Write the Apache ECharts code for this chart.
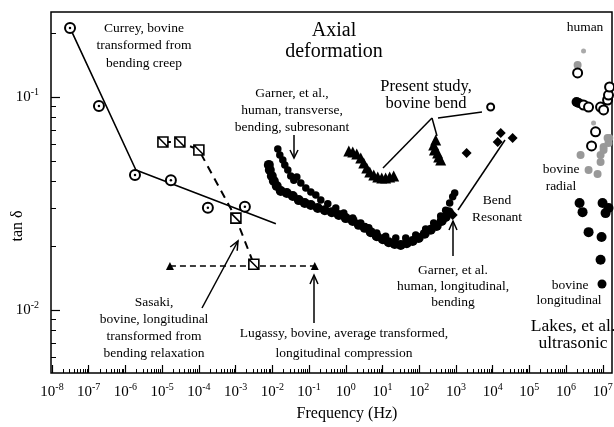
<!DOCTYPE html>
<html>
<head>
<meta charset="utf-8">
<script src="https://cdn.jsdelivr.net/npm/echarts@6/dist/echarts.min.js"></script>
<style>
html, body { margin: 0; padding: 0; background: #fff; }
#main { width: 614px; height: 427px; }
</style>
</head>
<body>
<div id="main"></div>
<script>
// 坐标轴刻度
var xMajor = [1e-8, 1e-7, 1e-6, 1e-5, 1e-4, 1e-3, 1e-2, 1e-1, 1, 10, 100, 1e3, 1e4, 1e5, 1e6, 1e7];
var yMajor = [0.01, 0.1];
var yMinor = [0.006, 0.007, 0.008, 0.009, 0.02, 0.03, 0.04, 0.05, 0.06, 0.07, 0.08, 0.09, 0.2];

// Currey
var currey = [[3.1e-8, 0.211], [1.9e-7, 0.0907], [1.82e-6, 0.043], [1.73e-5, 0.0407], [1.76e-4, 0.0302], [1.79e-3, 0.0305]];
var curreyFit = [[3.1e-8, 0.211], [1.93e-6, 0.0454], [1.25e-2, 0.0254]];
// Sasaki
var sasaki = [[1.05e-5, 0.0615], [3.04e-5, 0.0615], [1.0e-4, 0.0564], [1.02e-3, 0.027], [3.14e-3, 0.0164]];
// Lugassy
var lugassy = [[1.63e-5, 0.0161], [0.143, 0.0161]];
// Garner, transverse
var garnerTrans = [[0.0141, 0.057], [0.016, 0.0534], [0.0193, 0.0506], [0.0219, 0.048], [0.0264, 0.0454],
    [0.0318, 0.0426], [0.0385, 0.0407], [0.0465, 0.0421], [0.0597, 0.0395], [0.0817, 0.0374], [0.112, 0.0358],
    [0.153, 0.0347], [0.209, 0.0328], [0.324, 0.0315], [0.535, 0.0301], [0.883, 0.0285], [1.55, 0.027],
    [2.56, 0.0256], [4.23, 0.0243], [6.98, 0.023], [12.2, 0.0222], [23, 0.0218], [43, 0.0218], [80.4, 0.0225],
    [150, 0.024], [248, 0.0256], [385, 0.0276], [526, 0.0294], [676, 0.0318], [817, 0.034], [925, 0.0354]];
// Garner, longitudinal
var garnerLong = [[0.00804, 0.048], [0.00855, 0.0454], [0.0097, 0.0426], [0.011, 0.0403], [0.0132, 0.0382],
    [0.017, 0.0362], [0.0248, 0.0354], [0.0361, 0.0343], [0.0526, 0.0328], [0.0765, 0.0318], [0.112, 0.0311],
    [0.173, 0.0301], [0.269, 0.0294], [0.416, 0.0288], [0.646, 0.0279], [1.0, 0.027], [1.55, 0.0262],
    [2.26, 0.0251], [3.29, 0.0243], [4.79, 0.0232], [6.98, 0.0222], [10.2, 0.0215], [14.8, 0.0208],
    [21.5, 0.0204], [31.4, 0.0202], [45.7, 0.0206], [66.5, 0.0211], [96.9, 0.0218], [141, 0.0228],
    [206, 0.0238], [299, 0.0248], [409, 0.0262], [526, 0.0273], [635, 0.0288]];
// Present study
var present = [[1.21, 0.0557], [1.55, 0.0552], [1.99, 0.054], [2.56, 0.0517], [3.09, 0.049], [3.73, 0.0464],
    [4.5, 0.0445], [5.78, 0.043], [7.43, 0.0421], [9.55, 0.0417], [12.2, 0.0417], [15.7, 0.0421], [20.2, 0.0426],
    [281, 0.0628], [248, 0.0595], [260, 0.0564], [318, 0.0546], [340, 0.0523], [385, 0.0506]];
var presentMarker = [[8830, 0.0897]];
// Bend resonant
var bendResonant = [[1.37e4, 0.0615], [1.66e4, 0.0678], [3.5e4, 0.0642], [1960, 0.0546], [817, 0.0279]];
// Lakes, ultrasonic
var humanOpen = [[2.06e6, 0.1297], [2.99e6, 0.0917], [4.09e6, 0.0897], [8.69e6, 0.0897], [1.05e7, 0.0869],
    [1.35e7, 0.0968], [1.43e7, 0.1021], [1.53e7, 0.1114], [6.35e6, 0.0686], [4.94e6, 0.0589]];
var humanFilled = [[1.93e6, 0.0947], [2.19e6, 0.0938]];
var radial = [[2.06e6, 0.1413], [1.35e7, 0.0642], [1.43e7, 0.0608], [1.05e7, 0.0582], [8.7e6, 0.0534],
    [2.48e6, 0.0534], [4.1e6, 0.0454], [7.2e6, 0.0435], [8.7e6, 0.0495], [1.05e7, 0.0564], [1.5e7, 0.0642]];
var radialSmall = [[2.99e6, 0.1644], [5.6e6, 0.0755]];
var longitudinal = [[2.33e6, 0.0318], [2.81e6, 0.0288], [9.84e6, 0.0318], [1.19e7, 0.0285], [1.43e7, 0.0301],
    [4.1e6, 0.0232], [9.25e6, 0.022], [8.7e6, 0.0172]];

var FONT = '"Liberation Serif", "Times New Roman", serif';

var xMinor = [];
xMajor.forEach(function (d) {
    for (var k = 2; k <= 9; k++) xMinor.push(d * k);
});

function powLabel(v) {
    var n = Math.round(Math.log10(v));
    return '{b|10}{s|' + n + '}';
}
var richLabel = {
    b: { fontFamily: FONT, fontSize: 15, color: '#000', lineHeight: 20 },
    s: { fontFamily: FONT, fontSize: 10, color: '#000', verticalAlign: 'top', lineHeight: 12 }
};

var xLim = [9.4e-9, 1.78e7];
var yLim = [0.00506, 0.2506];

function txt(text, x, y, size, lh) {
    return {
        type: 'text', z: 100,
        style: {
            text: text, x: x, y: y, fill: '#000',
            font: size + 'px ' + FONT,
            align: 'center', verticalAlign: 'middle',
            textAlign: 'center', textVerticalAlign: 'middle',
            lineHeight: lh || size + 3
        }
    };
}
function seg(x1, y1, x2, y2) {
    return { type: 'line', z: 100, shape: { x1: x1, y1: y1, x2: x2, y2: y2 }, style: { stroke: '#000', lineWidth: 1.5 } };
}
function head(pts) {
    return { type: 'polyline', z: 100, shape: { points: pts }, style: { stroke: '#000', lineWidth: 1.5, fill: null } };
}
// 散点
function dots(name, data, symbol, size, style, z) {
    style.opacity = 1;
    return { name: name, type: 'scatter', data: data, symbol: symbol, symbolSize: size, itemStyle: style, z: z || 3 };
}

var chart = echarts.init(document.getElementById('main'));
var option = {
    animation: false,
    backgroundColor: '#fff',
    grid: {
        left: 51, top: 12, right: 2, bottom: 54,
        show: true, borderColor: '#000', borderWidth: 1.5,
        outerBoundsMode: 'none', containLabel: false
    },
    xAxis: [
        {
            type: 'log', logBase: 10, min: xLim[0], max: xLim[1], position: 'bottom',
            axisLine: { show: false },
            splitLine: { show: false },
            axisTick: { show: true, inside: true, length: 8, lineStyle: { color: '#000', width: 1.2 }, customValues: xMajor },
            axisLabel: { customValues: xMajor, formatter: powLabel, rich: richLabel, margin: 9 }
        },
        {
            type: 'log', logBase: 10, min: xLim[0], max: xLim[1], position: 'bottom',
            axisLine: { show: false },
            splitLine: { show: false },
            axisTick: { show: true, inside: true, length: 4, lineStyle: { color: '#000', width: 1 }, customValues: xMinor },
            axisLabel: { show: false }
        }
    ],
    yAxis: [
        {
            type: 'log', logBase: 10, min: yLim[0], max: yLim[1], position: 'left',
            axisLine: { show: false },
            splitLine: { show: false },
            axisTick: { show: true, inside: true, length: 9, lineStyle: { color: '#000', width: 1.2 }, customValues: yMajor },
            axisLabel: { customValues: yMajor, formatter: powLabel, rich: richLabel, margin: 12 }
        },
        {
            type: 'log', logBase: 10, min: yLim[0], max: yLim[1], position: 'left',
            axisLine: { show: false },
            splitLine: { show: false },
            axisTick: { show: true, inside: true, length: 5, lineStyle: { color: '#000', width: 1 }, customValues: yMinor },
            axisLabel: { show: false }
        }
    ],
    series: [
        {
            name: 'Currey fit', type: 'line', data: curreyFit, showSymbol: false, symbol: 'none',
            lineStyle: { color: '#000', width: 1.6 }, z: 2
        },
        dots('Currey', currey, 'emptyCircle', 10, { color: '#000', borderColor: '#000', borderWidth: 1.2 }),
        dots('Currey dot', currey, 'circle', 2.5, { color: '#000' }, 4),
        {
            name: 'Sasaki', type: 'line', data: sasaki,
            symbol: 'path://M0,0L10,0L10,10L0,10ZM0,0L10,10', symbolSize: 10,
            itemStyle: { color: '#fff', borderColor: '#000', borderWidth: 1.6 },
            lineStyle: { color: '#000', width: 2, type: [8, 6] }, z: 3
        },
        {
            name: 'Lugassy', type: 'line', data: lugassy, symbol: 'triangle', symbolSize: 8,
            itemStyle: { color: '#000' },
            lineStyle: { color: '#000', width: 1.4, type: [6, 4] }, z: 3
        },
        dots('Garner transverse', garnerTrans, 'circle', 7.5, { color: '#000' }),
        dots('Garner longitudinal', garnerLong, 'circle', 10, { color: '#000' }),
        dots('Present study', present, 'triangle', 11, { color: '#000' }),
        dots('Present marker', presentMarker, 'emptyCircle', 7, { color: '#000', borderWidth: 1.3 }),
        dots('Bend resonant', bendResonant, 'diamond', 10, { color: '#000' }),
        dots('radial', radial, 'circle', 8, { color: '#999' }),
        dots('radial small', radialSmall, 'circle', 5, { color: '#aaa' }),
        dots('human filled', humanFilled, 'circle', 10, { color: '#000' }, 4),
        dots('human open', humanOpen, 'emptyCircle', 9, { color: '#000', borderWidth: 2 }, 4),
        dots('longitudinal', longitudinal, 'circle', 10, { color: '#000' })
    ],
    graphic: [
        txt('Currey, bovine\ntransformed from\nbending creep', 144, 45.5, 13.5, 17.5),
        txt('Axial\ndeformation', 334, 41.5, 20, 21),
        txt('Garner, et al.,\nhuman, transverse,\nbending, subresonant', 292, 110, 13.5, 17),
        txt('Present study,\nbovine bend', 426, 95, 16.5, 16.5),
        txt('Bend\nResonant', 497, 208.5, 13.5, 17),
        txt('Garner, et al.\nhuman, longitudinal,\nbending', 453, 286, 13.5, 16),
        txt('human', 585, 27, 13.5),
        txt('bovine\nradial', 561, 177.5, 13.5, 17),
        txt('bovine', 570, 285, 13.5),
        txt('longitudinal', 569, 300, 13.5),
        txt('Lakes, et al.\nultrasonic', 573, 334.5, 17.5, 17),
        txt('Sasaki,\nbovine, longitudinal\ntransformed from\nbending relaxation', 154, 328, 13.5, 16.7),
        txt('Lugassy, bovine, average transformed,\nlongitudinal compression', 344, 343, 13.5, 20),
        txt('Frequency (Hz)', 347, 414, 16),
        {
            type: 'text', z: 100, x: 18, y: 226, rotation: Math.PI / 2,
            style: {
                text: 'tan δ', x: 0, y: 0, fill: '#000', font: '16px ' + FONT,
                align: 'center', verticalAlign: 'middle', textAlign: 'center', textVerticalAlign: 'middle'
            }
        },
        { type: 'circle', z: 100, shape: { cx: 602, cy: 284, r: 4.5 }, style: { fill: '#000' } },
        // arrows and leader lines
        seg(294, 135, 294, 157), head([[290, 150], [294, 158], [298, 150]]),
        seg(432, 118, 383, 168), seg(432, 118, 437, 136), seg(438, 118, 482, 112),
        seg(458, 210, 505, 140),
        seg(453, 256, 453, 222), head([[449, 230], [453, 221], [457, 230]]),
        seg(202, 308, 238, 241), head([[230.2, 247], [238, 241], [237.2, 250.8]]),
        seg(314, 323, 314, 276), head([[310, 284], [314, 275], [318, 284]])
    ]
};
chart.setOption(option);
</script>
</body>
</html>
